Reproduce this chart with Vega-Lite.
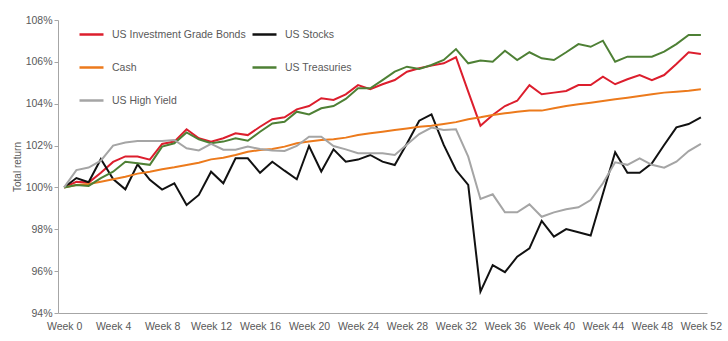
{
  "$schema": "https://vega.github.io/schema/vega-lite/v6.json",
  "width": 649,
  "height": 293,
  "autosize": {"type": "none"},
  "padding": {"left": 58, "top": 20, "right": 21, "bottom": 28},
  "background": "white",
  "config": {
    "view": {"stroke": null},
    "font": "Liberation Sans",
    "axis": {"labelColor": "#595959", "labelFontSize": 10.5, "domainColor": "#a6a6a6", "tickColor": "#a6a6a6", "grid": false}
  },
  "data": {
    "values": [
      {"week": 0, "US Investment Grade Bonds": 100, "US Stocks": 100, "Cash": 100, "US Treasuries": 100, "US High Yield": 100},
      {"week": 1, "US Investment Grade Bonds": 100.27, "US Stocks": 100.45, "Cash": 100.12, "US Treasuries": 100.12, "US High Yield": 100.83},
      {"week": 2, "US Investment Grade Bonds": 100.23, "US Stocks": 100.25, "Cash": 100.16, "US Treasuries": 100.07, "US High Yield": 100.95},
      {"week": 3, "US Investment Grade Bonds": 100.7, "US Stocks": 101.36, "Cash": 100.27, "US Treasuries": 100.44, "US High Yield": 101.28},
      {"week": 4, "US Investment Grade Bonds": 101.22, "US Stocks": 100.4, "Cash": 100.39, "US Treasuries": 100.75, "US High Yield": 102.0},
      {"week": 5, "US Investment Grade Bonds": 101.48, "US Stocks": 99.91, "Cash": 100.51, "US Treasuries": 101.23, "US High Yield": 102.15},
      {"week": 6, "US Investment Grade Bonds": 101.48, "US Stocks": 101.1, "Cash": 100.66, "US Treasuries": 101.15, "US High Yield": 102.22},
      {"week": 7, "US Investment Grade Bonds": 101.33, "US Stocks": 100.36, "Cash": 100.75, "US Treasuries": 101.08, "US High Yield": 102.22},
      {"week": 8, "US Investment Grade Bonds": 102.08, "US Stocks": 99.9, "Cash": 100.87, "US Treasuries": 101.95, "US High Yield": 102.22},
      {"week": 9, "US Investment Grade Bonds": 102.19, "US Stocks": 100.2, "Cash": 100.96, "US Treasuries": 102.11, "US High Yield": 102.27},
      {"week": 10, "US Investment Grade Bonds": 102.78, "US Stocks": 99.16, "Cash": 101.07, "US Treasuries": 102.63, "US High Yield": 101.87},
      {"week": 11, "US Investment Grade Bonds": 102.35, "US Stocks": 99.64, "Cash": 101.18, "US Treasuries": 102.3, "US High Yield": 101.77},
      {"week": 12, "US Investment Grade Bonds": 102.19, "US Stocks": 100.75, "Cash": 101.34, "US Treasuries": 102.11, "US High Yield": 102.08},
      {"week": 13, "US Investment Grade Bonds": 102.35, "US Stocks": 100.2, "Cash": 101.42, "US Treasuries": 102.19, "US High Yield": 101.8},
      {"week": 14, "US Investment Grade Bonds": 102.59, "US Stocks": 101.39, "Cash": 101.55, "US Treasuries": 102.35, "US High Yield": 101.8},
      {"week": 15, "US Investment Grade Bonds": 102.5, "US Stocks": 101.39, "Cash": 101.7, "US Treasuries": 102.23, "US High Yield": 101.95},
      {"week": 16, "US Investment Grade Bonds": 102.9, "US Stocks": 100.7, "Cash": 101.79, "US Treasuries": 102.66, "US High Yield": 101.84},
      {"week": 17, "US Investment Grade Bonds": 103.26, "US Stocks": 101.23, "Cash": 101.84, "US Treasuries": 103.06, "US High Yield": 101.76},
      {"week": 18, "US Investment Grade Bonds": 103.35, "US Stocks": 100.8, "Cash": 101.95, "US Treasuries": 103.14, "US High Yield": 101.74},
      {"week": 19, "US Investment Grade Bonds": 103.73, "US Stocks": 100.39, "Cash": 102.11, "US Treasuries": 103.62, "US High Yield": 101.98},
      {"week": 20, "US Investment Grade Bonds": 103.89, "US Stocks": 101.98, "Cash": 102.19, "US Treasuries": 103.49, "US High Yield": 102.42},
      {"week": 21, "US Investment Grade Bonds": 104.26, "US Stocks": 100.76, "Cash": 102.27, "US Treasuries": 103.78, "US High Yield": 102.42},
      {"week": 22, "US Investment Grade Bonds": 104.18, "US Stocks": 101.82, "Cash": 102.3, "US Treasuries": 103.89, "US High Yield": 101.98},
      {"week": 23, "US Investment Grade Bonds": 104.45, "US Stocks": 101.23, "Cash": 102.38, "US Treasuries": 104.23, "US High Yield": 101.82},
      {"week": 24, "US Investment Grade Bonds": 104.89, "US Stocks": 101.33, "Cash": 102.5, "US Treasuries": 104.74, "US High Yield": 101.63},
      {"week": 25, "US Investment Grade Bonds": 104.69, "US Stocks": 101.55, "Cash": 102.59, "US Treasuries": 104.74, "US High Yield": 101.63},
      {"week": 26, "US Investment Grade Bonds": 104.93, "US Stocks": 101.23, "Cash": 102.66, "US Treasuries": 105.13, "US High Yield": 101.63},
      {"week": 27, "US Investment Grade Bonds": 105.13, "US Stocks": 101.07, "Cash": 102.74, "US Treasuries": 105.53, "US High Yield": 101.55},
      {"week": 28, "US Investment Grade Bonds": 105.53, "US Stocks": 102.1, "Cash": 102.82, "US Treasuries": 105.77, "US High Yield": 102.05},
      {"week": 29, "US Investment Grade Bonds": 105.69, "US Stocks": 103.19, "Cash": 102.9, "US Treasuries": 105.66, "US High Yield": 102.55},
      {"week": 30, "US Investment Grade Bonds": 105.82, "US Stocks": 103.49, "Cash": 102.95, "US Treasuries": 105.85, "US High Yield": 102.86},
      {"week": 31, "US Investment Grade Bonds": 105.93, "US Stocks": 102.03, "Cash": 103.03, "US Treasuries": 106.09, "US High Yield": 102.74},
      {"week": 32, "US Investment Grade Bonds": 106.22, "US Stocks": 100.83, "Cash": 103.12, "US Treasuries": 106.61, "US High Yield": 102.78},
      {"week": 33, "US Investment Grade Bonds": 104.58, "US Stocks": 100.12, "Cash": 103.26, "US Treasuries": 105.93, "US High Yield": 101.47},
      {"week": 34, "US Investment Grade Bonds": 102.95, "US Stocks": 95.02, "Cash": 103.35, "US Treasuries": 106.06, "US High Yield": 99.45},
      {"week": 35, "US Investment Grade Bonds": 103.46, "US Stocks": 96.29, "Cash": 103.46, "US Treasuries": 106.01, "US High Yield": 99.67},
      {"week": 36, "US Investment Grade Bonds": 103.89, "US Stocks": 95.95, "Cash": 103.54, "US Treasuries": 106.53, "US High Yield": 98.81},
      {"week": 37, "US Investment Grade Bonds": 104.14, "US Stocks": 96.69, "Cash": 103.62, "US Treasuries": 106.09, "US High Yield": 98.81},
      {"week": 38, "US Investment Grade Bonds": 104.89, "US Stocks": 97.09, "Cash": 103.67, "US Treasuries": 106.46, "US High Yield": 99.19},
      {"week": 39, "US Investment Grade Bonds": 104.45, "US Stocks": 98.4, "Cash": 103.67, "US Treasuries": 106.17, "US High Yield": 98.6},
      {"week": 40, "US Investment Grade Bonds": 104.53, "US Stocks": 97.65, "Cash": 103.78, "US Treasuries": 106.09, "US High Yield": 98.81},
      {"week": 41, "US Investment Grade Bonds": 104.61, "US Stocks": 98.01, "Cash": 103.89, "US Treasuries": 106.46, "US High Yield": 98.96},
      {"week": 42, "US Investment Grade Bonds": 104.89, "US Stocks": 97.86, "Cash": 103.97, "US Treasuries": 106.85, "US High Yield": 99.05},
      {"week": 43, "US Investment Grade Bonds": 104.89, "US Stocks": 97.7, "Cash": 104.05, "US Treasuries": 106.72, "US High Yield": 99.4},
      {"week": 44, "US Investment Grade Bonds": 105.29, "US Stocks": 99.7, "Cash": 104.13, "US Treasuries": 107.01, "US High Yield": 100.2},
      {"week": 45, "US Investment Grade Bonds": 104.93, "US Stocks": 101.68, "Cash": 104.21, "US Treasuries": 106.01, "US High Yield": 101.2},
      {"week": 46, "US Investment Grade Bonds": 105.17, "US Stocks": 100.7, "Cash": 104.29, "US Treasuries": 106.25, "US High Yield": 101.08},
      {"week": 47, "US Investment Grade Bonds": 105.37, "US Stocks": 100.7, "Cash": 104.37, "US Treasuries": 106.25, "US High Yield": 101.39},
      {"week": 48, "US Investment Grade Bonds": 105.13, "US Stocks": 101.15, "Cash": 104.45, "US Treasuries": 106.25, "US High Yield": 101.08},
      {"week": 49, "US Investment Grade Bonds": 105.37, "US Stocks": 102.03, "Cash": 104.53, "US Treasuries": 106.49, "US High Yield": 100.94},
      {"week": 50, "US Investment Grade Bonds": 105.9, "US Stocks": 102.87, "Cash": 104.57, "US Treasuries": 106.85, "US High Yield": 101.23},
      {"week": 51, "US Investment Grade Bonds": 106.46, "US Stocks": 103.03, "Cash": 104.62, "US Treasuries": 107.28, "US High Yield": 101.74},
      {"week": 52, "US Investment Grade Bonds": 106.38, "US Stocks": 103.35, "Cash": 104.69, "US Treasuries": 107.28, "US High Yield": 102.08}
    ]
  },
  "transform": [
    {"fold": ["US Investment Grade Bonds", "US Stocks", "Cash", "US Treasuries", "US High Yield"], "as": ["series", "value"]}
  ],
  "mark": {"type": "line", "strokeWidth": 2},
  "encoding": {
    "x": {
      "field": "week",
      "type": "quantitative",
      "scale": {"domain": [-0.5, 52.5], "nice": false, "zero": false},
      "axis": {
        "values": [0, 4, 8, 12, 16, 20, 24, 28, 32, 36, 40, 44, 48, 52],
        "labelExpr": "'Week ' + datum.value",
        "title": null,
        "ticks": false,
        "tickSize": 0,
        "labelPadding": 8,
        "labelFlush": false,
        "labelOverlap": false
      }
    },
    "y": {
      "field": "value",
      "type": "quantitative",
      "scale": {"domain": [94, 108], "nice": false, "zero": false},
      "axis": {
        "values": [94, 96, 98, 100, 102, 104, 106, 108],
        "labelExpr": "datum.value + '%'",
        "title": "Total return",
        "tickSize": 4,
        "labelPadding": 2,
        "titleFontWeight": "normal",
        "titleFontSize": 10,
        "titleColor": "#595959",
        "titlePadding": 3
      }
    },
    "color": {
      "field": "series",
      "type": "nominal",
      "scale": {
        "domain": ["US Investment Grade Bonds", "US Stocks", "Cash", "US Treasuries", "US High Yield"],
        "range": ["#dc1e2d", "#111111", "#ec7a1c", "#4e8035", "#a5a5a5"]
      },
      "legend": {
        "title": null,
        "orient": "none",
        "legendX": 20,
        "legendY": 1,
        "columns": 2,
        "direction": "horizontal",
        "symbolType": "stroke",
        "symbolSize": 576,
        "symbolStrokeWidth": 2.5,
        "labelOffset": 7,
        "labelFontSize": 10.5,
        "labelColor": "#595959",
        "rowPadding": 14,
        "columnPadding": 1,
        "padding": 0,
        "labelLimit": 300
      }
    }
  }
}
